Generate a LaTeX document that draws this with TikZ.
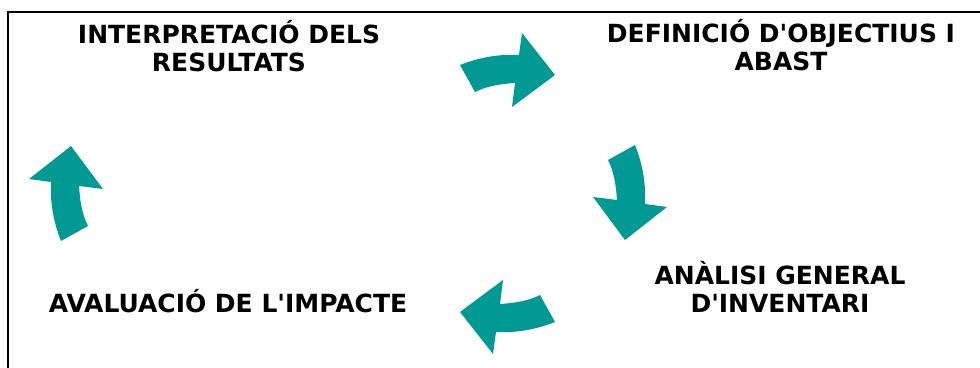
\documentclass[tikz,border=0pt]{standalone}
\usepackage{fontspec}
\setmainfont{DejaVu Sans}
\usepackage{tikz}
\usetikzlibrary{calc}
\definecolor{verdos}{RGB}{0,153,148}

\begin{document}
\begin{tikzpicture}[x=1pt,y=1pt,
    etapa/.style={align=center,font=\bfseries\fontsize{25}{28}\selectfont,inner sep=0pt},
    fletxa/.pic={\fill[verdos] (0,0) -- (-33,42) -- (-36,20)
        .. controls (-55,21) and (-75,18) .. (-95,10) -- (-80,-17)
        .. controls (-68,-11) and (-55,-9) .. (-40,-8) -- (-43,-32) -- cycle;}]
            \useasboundingbox (0,0) rectangle (980,367);
            \draw[line width=1.5pt] (8,-2) -- (8,355) -- (982,355);
            \draw (229,321) node[etapa] (interp) {INTERPRETACIÓ DELS\\RESULTATS};
            \draw (781,322) node[etapa] (defin) {DEFINICIÓ D\textquotesingle OBJECTIUS I\\ABAST};
            \draw (780,80) node[etapa] (analisi) {ANÀLISI GENERAL\\D\textquotesingle INVENTARI};
            \draw (228,66) node[etapa] (avalua) {AVALUACIÓ DE L\textquotesingle IMPACTE};
            \path (555,292) pic {fletxa}
                  (625,127) pic[rotate=-90] {fletxa}
                  (460,55) pic[rotate=180] {fletxa}
                  (71,221) pic[rotate=90] {fletxa};
        \end{tikzpicture}
\end{document}
